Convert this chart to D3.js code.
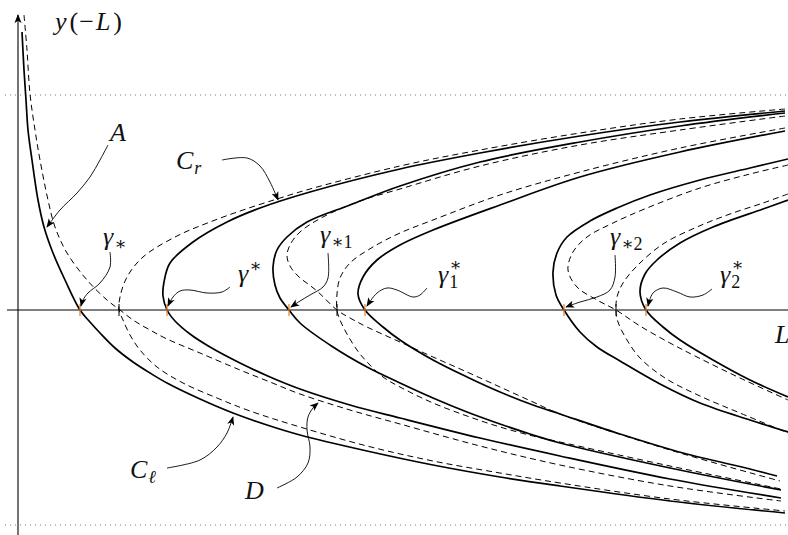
<!DOCTYPE html>
<html>
<head>
<meta charset="utf-8">
<script src="https://cdn.jsdelivr.net/npm/d3@7"></script>
<style>
  body { margin: 0; background: #fff; }
  .lbl { font-family: "Liberation Serif", "DejaVu Serif", serif; font-style: italic; font-size: 26px; fill: #111; }
  .up { font-style: normal; }
</style>
</head>
<body>
<script>
// curves, as [L, y(-L)] pairs
const branch_A = [[0.04,2.78],[0.06,2.40],[0.08,2.10],[0.10,1.80],[0.14,1.50],[0.20,1.10],[0.26,0.83],[0.35,0.57],[0.47,0.30],[0.62,0],
  [0.72,-0.12],[0.82,-0.23],[0.97,-0.38],[1.15,-0.52],[1.32,-0.63],[1.49,-0.73],[1.82,-0.89],[2.15,-1.03],[2.49,-1.15],[2.82,-1.25],
  [3.49,-1.41],[4.15,-1.55],[4.82,-1.67],[5.42,-1.76],[6.52,-1.91],[7.67,-2.03]];
const branch_A_dashed = [[0.06,2.95],[0.09,2.60],[0.12,2.16],[0.17,1.80],[0.22,1.50],[0.30,1.10],[0.37,0.83],[0.49,0.57],[0.69,0.30],[0.89,0.10],[1.02,0],
  [1.15,-0.10],[1.32,-0.20],[1.49,-0.29],[1.82,-0.43],[2.22,-0.60],[2.52,-0.72],[2.82,-0.84],[3.32,-1.00],[3.82,-1.14],[4.62,-1.36],[5.42,-1.55],[6.52,-1.76],[7.63,-1.91]];
const branch_C_star = [[7.67,1.99],[6.62,1.88],[5.62,1.74],[4.62,1.57],[3.82,1.41],[2.92,1.18],[2.42,1.02],[2.09,0.88],[1.75,0.68],[1.52,0.47],[1.46,0.28],[1.45,0.14],[1.49,0],
  [1.57,-0.11],[1.72,-0.24],[1.92,-0.37],[2.22,-0.53],[2.52,-0.67],[2.82,-0.79],[3.32,-0.95],[3.82,-1.08],[4.62,-1.28],[5.42,-1.46],[6.52,-1.69],[7.63,-1.88]];
const branch_C_star_dashed = [[7.67,2.01],[6.62,1.91],[5.62,1.77],[4.62,1.60],[3.82,1.44],[2.92,1.21],[2.59,1.11],[2.25,1.00],[1.92,0.88],[1.59,0.74],[1.25,0.53],[1.09,0.33],[1.02,0.13],[1.01,0],
  [1.05,-0.10],[1.12,-0.25],[1.22,-0.40],[1.39,-0.57],[1.65,-0.73],[1.99,-0.88],[2.32,-1.01],[2.82,-1.17],[3.49,-1.36],[4.15,-1.51],[4.82,-1.63],[5.42,-1.73],[6.52,-1.89],[7.67,-2.01]];
const branch_C_star1 = [[7.67,1.97],[6.62,1.84],[5.62,1.68],[4.62,1.48],[3.82,1.24],[3.32,1.05],[2.89,0.88],[2.69,0.73],[2.59,0.60],[2.55,0.43],[2.57,0.25],[2.62,0.12],[2.71,0],
  [2.82,-0.13],[3.15,-0.37],[3.49,-0.57],[3.82,-0.73],[4.15,-0.88],[4.49,-1.02],[4.82,-1.14],[5.15,-1.25],[5.42,-1.33],[6.52,-1.58],[7.63,-1.80]];
const branch_C_star1_dashed = [[7.67,1.94],[6.62,1.80],[5.62,1.65],[4.62,1.44],[3.82,1.21],[3.42,1.09],[3.05,0.93],[2.82,0.78],[2.72,0.65],[2.69,0.54],[2.72,0.44],[2.80,0.34],[2.99,0.19],[3.19,0],
  [3.32,-0.08],[3.49,-0.17],[3.82,-0.32],[4.15,-0.47],[4.49,-0.62],[4.82,-0.77],[5.15,-0.92],[5.42,-1.04],[6.52,-1.40],[7.62,-1.71]];
const branch_C1_star = [[7.67,1.79],[6.62,1.58],[5.62,1.33],[4.82,1.05],[4.15,0.80],[3.82,0.65],[3.59,0.50],[3.45,0.33],[3.40,0.16],[3.47,0],
  [3.65,-0.17],[3.82,-0.30],[4.15,-0.50],[4.49,-0.67],[4.82,-0.82],[5.15,-0.95],[5.42,-1.04],[5.99,-1.23],[6.65,-1.43],[7.32,-1.59],[7.59,-1.66]];
const branch_C1_star_dashed = [[7.67,1.82],[6.62,1.62],[5.62,1.38],[4.82,1.15],[4.15,0.90],[3.82,0.77],[3.55,0.63],[3.32,0.47],[3.22,0.32],[3.19,0.16],[3.19,0],
  [3.22,-0.10],[3.29,-0.24],[3.39,-0.40],[3.49,-0.52],[3.65,-0.67],[3.82,-0.77],[4.15,-0.93],[4.49,-1.06],[4.82,-1.17],[5.15,-1.26],[5.42,-1.32],[6.52,-1.56],[7.63,-1.79]];
const branch_C_star2 = [[7.70,1.51],[7.32,1.42],[6.82,1.30],[6.32,1.15],[5.99,1.02],[5.72,0.89],[5.49,0.73],[5.39,0.57],[5.35,0.38],[5.38,0.15],[5.46,0],
  [5.62,-0.22],[5.79,-0.37],[6.02,-0.51],[6.42,-0.74],[6.82,-0.93],[7.32,-1.10],[7.70,-1.22]];
const branch_C_star2_dashed = [[7.70,1.45],[7.32,1.36],[6.82,1.22],[6.29,1.02],[5.95,0.87],[5.69,0.73],[5.55,0.58],[5.50,0.40],[5.59,0.23],[5.79,0.10],[5.98,0],
  [6.22,-0.16],[6.52,-0.33],[6.79,-0.47],[7.22,-0.68],[7.70,-0.90]];
const branch_C2_star = [[7.70,1.10],[7.45,1.01],[6.95,0.83],[6.62,0.67],[6.39,0.50],[6.27,0.36],[6.22,0.18],[6.28,0],
  [6.45,-0.17],[6.62,-0.30],[6.95,-0.50],[7.32,-0.70],[7.70,-0.87]];
const branch_C2_star_dashed = [[7.70,1.16],[7.45,1.07],[7.12,0.96],[6.79,0.83],[6.45,0.66],[6.19,0.44],[6.05,0.27],[5.99,0.13],[5.98,0],
  [6.00,-0.12],[6.09,-0.30],[6.22,-0.48],[6.47,-0.68],[6.82,-0.86],[7.22,-1.03],[7.70,-1.23]];

const gamma_crossings = [0.62, 1.49, 2.71, 3.47, 5.46, 6.28];
const dashed_crossings = [1.01, 3.19, 5.98];
const asymptotes = [2.15, -2.15];

// annotation arrows, tail first
const arrow_A = [[0.90,1.65],[0.82,1.50],[0.72,1.33],[0.59,1.17],[0.42,1.00],[0.29,0.83]];
const arrow_Cr = [[2.04,1.50],[2.29,1.52],[2.42,1.44],[2.52,1.28],[2.60,1.10]];
const arrow_g_low = [[0.92,0.58],[0.92,0.43],[0.82,0.27],[0.70,0.17],[0.65,0.10],[0.63,0.04]];
const arrow_g_up = [[2.12,0.23],[2.04,0.18],[1.89,0.17],[1.72,0.20],[1.62,0.19],[1.55,0.13],[1.50,0.04]];
const arrow_g_low1 = [[3.10,0.57],[3.10,0.32],[3.05,0.23],[2.92,0.15],[2.82,0.09],[2.73,0.03]];
const arrow_g_up1 = [[4.09,0.22],[4.02,0.15],[3.95,0.13],[3.79,0.20],[3.69,0.22],[3.59,0.17],[3.49,0.04]];
const arrow_g_low2 = [[5.97,0.55],[5.97,0.33],[5.92,0.20],[5.79,0.13],[5.62,0.08],[5.48,0.03]];
const arrow_g_up2 = [[6.94,0.21],[6.85,0.15],[6.72,0.13],[6.59,0.18],[6.45,0.22],[6.35,0.17],[6.30,0.04]];
const arrow_Cl = [[1.49,-1.58],[1.82,-1.50],[1.99,-1.37],[2.09,-1.23],[2.15,-1.07]];
const arrow_D = [[2.59,-1.78],[2.79,-1.67],[2.90,-1.53],[2.92,-1.37],[2.89,-1.20],[2.90,-1.07],[2.95,-0.98],[3.00,-0.93]];

function draw_chart() {
    const width = 788, height = 535;
    const svg = d3.select("body").append("svg")
        .attr("width", width)
        .attr("height", height);

    const x_scale = d3.scaleLinear().domain([0, 7.7]).range([18, 788]);
    const y_scale = d3.scaleLinear().domain([-2.15, 2.15]).range([525, 95]);

    svg.append("defs").append("marker")
        .attr("id", "arr")
        .attr("viewBox", "0 -5 10 10")
        .attr("refX", 9).attr("refY", 0)
        .attr("markerWidth", 9).attr("markerHeight", 9)
        .attr("markerUnits", "userSpaceOnUse")
        .attr("orient", "auto")
        .append("path")
        .attr("d", "M0,-4 L10,0 L0,4 L2.5,0 Z")
        .attr("fill", "#000");

    // dotted asymptotes
    svg.selectAll(".asym")
        .data(asymptotes)
        .join("line")
        .attr("x1", x_scale(-0.13)).attr("x2", x_scale(7.7))
        .attr("y1", d => y_scale(d)).attr("y2", d => y_scale(d))
        .attr("stroke", "#777")
        .attr("stroke-width", 1)
        .attr("stroke-dasharray", "1,4");

    // axes
    svg.append("line")
        .attr("x1", x_scale(-0.11)).attr("x2", x_scale(7.7))
        .attr("y1", y_scale(0)).attr("y2", y_scale(0))
        .attr("stroke", "#000").attr("stroke-width", 1.1);
    svg.append("line")
        .attr("x1", x_scale(0)).attr("x2", x_scale(0))
        .attr("y1", y_scale(-2.3)).attr("y2", y_scale(2.95))
        .attr("stroke", "#000").attr("stroke-width", 1.1)
        .attr("marker-end", "url(#arr)");

    const line = d3.line()
        .x(d => x_scale(d[0]))
        .y(d => y_scale(d[1]))
        .curve(d3.curveCatmullRom.alpha(0.5));

    const dashed_curves = [branch_A_dashed, branch_C_star_dashed, branch_C_star1_dashed,
        branch_C1_star_dashed, branch_C_star2_dashed, branch_C2_star_dashed];
    const solid_curves = [branch_A, branch_C_star, branch_C_star1, branch_C1_star, branch_C_star2, branch_C2_star];

    svg.selectAll(".dashed")
        .data(dashed_curves)
        .join("path")
        .attr("class", "dashed")
        .attr("d", line)
        .attr("fill", "none")
        .attr("stroke", "#000")
        .attr("stroke-width", 1)
        .attr("stroke-dasharray", "6,4");

    svg.selectAll(".solid")
        .data(solid_curves)
        .join("path")
        .attr("class", "solid")
        .attr("d", line)
        .attr("fill", "none")
        .attr("stroke", "#000")
        .attr("stroke-width", 1.7);

    // little marks where the branches cross the axis
    svg.selectAll(".dtick")
        .data(dashed_crossings)
        .join("line")
        .attr("x1", d => x_scale(d)).attr("x2", d => x_scale(d))
        .attr("y1", y_scale(0) - 6).attr("y2", y_scale(0) + 6)
        .attr("stroke", "#000").attr("stroke-width", 1);
    svg.selectAll(".gtick")
        .data(gamma_crossings)
        .join("line")
        .attr("x1", d => x_scale(d)).attr("x2", d => x_scale(d))
        .attr("y1", y_scale(0) - 6).attr("y2", y_scale(0) + 6)
        .attr("stroke", "#e8892c").attr("stroke-width", 1.3);

    const arrows = [arrow_A, arrow_Cr, arrow_g_low, arrow_g_up, arrow_g_low1, arrow_g_up1,
        arrow_g_low2, arrow_g_up2, arrow_Cl, arrow_D];
    svg.selectAll(".arrow")
        .data(arrows)
        .join("path")
        .attr("class", "arrow")
        .attr("d", line)
        .attr("fill", "none")
        .attr("stroke", "#000")
        .attr("stroke-width", 0.9)
        .attr("marker-end", "url(#arr)");

    // labels: base letter, then subscript and/or superscript stacked at the same x
    function add_label(L, y, base, sub, sup, sub_italic) {
        const t = svg.append("text")
            .attr("class", "lbl")
            .attr("x", x_scale(L))
            .attr("y", y_scale(y));
        t.append("tspan").text(base);
        const x_end = x_scale(L) + t.node().getComputedTextLength() + 1;
        if (sub) {
            t.append("tspan")
                .attr("x", x_end)
                .attr("y", y_scale(y) + 5)
                .attr("class", sub_italic ? null : "up")
                .style("font-size", "18px")
                .text(sub);
        }
        if (sup) {
            t.append("tspan")
                .attr("x", x_end)
                .attr("y", y_scale(y) - (sub ? 12 : 10))
                .attr("class", "up")
                .style("font-size", "18px")
                .text(sup);
        }
        return t;
    }

    add_label(0.92, 1.69, "A");
    add_label(1.58, 1.41, "C", "r", null, true);
    add_label(0.85, 0.65, "γ", "∗");
    add_label(2.20, 0.28, "γ", null, "∗");
    add_label(3.02, 0.67, "γ", "∗1");
    add_label(4.20, 0.27, "γ", "1", "∗");
    add_label(5.92, 0.65, "γ", "∗2");
    add_label(7.02, 0.27, "γ", "2", "∗");
    add_label(1.12, -1.68, "C", "ℓ", null, true);
    add_label(2.27, -1.89, "D");
    add_label(7.57, -0.33, "L");

    const ylab = svg.append("text")
        .attr("class", "lbl")
        .attr("x", x_scale(0.37))
        .attr("y", y_scale(2.80));
    ylab.append("tspan").text("y");
    ylab.append("tspan").attr("class", "up").attr("dx", 3).text("(");
    ylab.append("tspan").attr("class", "up").attr("dx", 1).text("−");
    ylab.append("tspan").attr("dx", 2).text("L");
    ylab.append("tspan").attr("class", "up").attr("dx", 3).text(")");
}
draw_chart();
</script>
</body>
</html>
